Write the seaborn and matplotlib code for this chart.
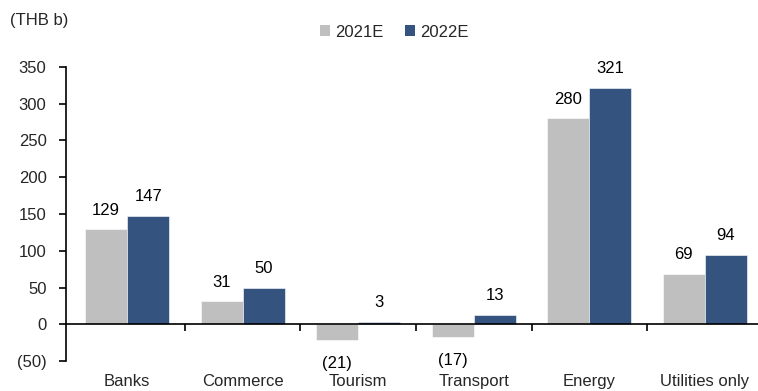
import matplotlib
matplotlib.use("Agg")
import matplotlib.pyplot as plt
import seaborn as sns
import pandas as pd
from matplotlib.ticker import FixedLocator, FuncFormatter
from matplotlib.patches import Patch

# Sector earnings, THB billion
sectors = ["Banks", "Commerce", "Tourism", "Transport", "Energy", "Utilities only"]
values_2021e = [129, 31, -21, -17, 280, 69]
values_2022e = [147, 50, 3, 13, 321, 94]
series = ["2021E", "2022E"]
colors = ["#BFBFBF", "#34537F"]
y_ticks = [-50, 0, 50, 100, 150, 200, 250, 300, 350]

df = pd.DataFrame({
    "sector": sectors * 2,
    "series": [series[0]] * len(sectors) + [series[1]] * len(sectors),
    "value": values_2021e + values_2022e,
})

sns.set_theme(style="white")
plt.rcParams["font.family"] = ["Liberation Sans", "DejaVu Sans"]
FS = 12

fig = plt.figure(figsize=(7.58, 3.91), dpi=100)
ax = fig.add_axes([0.087, 0.0767, 0.919, 0.752])

sns.barplot(data=df, x="sector", y="value", hue="series", order=sectors,
            hue_order=series, palette=colors, width=0.73, saturation=1,
            edgecolor="white", linewidth=0.4, legend=False, ax=ax)

ax.set_ylim(-50, 350)
ax.set_xlim(-0.53, 5.5)
ax.set_xlabel("")
ax.set_ylabel("")

# Value labels: above positive bars, below negative bars in parentheses
for container in ax.containers:
    for bar in container:
        h = bar.get_height()
        v = h if bar.get_y() >= 0 and h >= 0 else -abs(h)
        x = bar.get_x() + bar.get_width() / 2
        if v >= 0:
            ax.annotate(f"{v:.0f}", (x, v), xytext=(0, 8.5), textcoords="offset points",
                        ha="center", va="bottom", fontsize=FS, color="black")
        else:
            ax.annotate(f"({abs(v):.0f})", (x, v), xytext=(0, -11.5), textcoords="offset points",
                        ha="center", va="top", fontsize=FS, color="black")

# Axes styling
for side in ["top", "right"]:
    ax.spines[side].set_visible(False)
ax.spines["left"].set_color("black")
ax.spines["left"].set_linewidth(1.2)
ax.spines["bottom"].set_position(("data", 0))
ax.spines["bottom"].set_color("black")
ax.spines["bottom"].set_linewidth(1.2)

ax.yaxis.set_major_locator(FixedLocator(y_ticks))
ax.yaxis.set_major_formatter(FuncFormatter(lambda v, p: f"({abs(v):.0f})" if v < 0 else f"{v:.0f}"))
ax.tick_params(axis="y", which="major", direction="out", length=5, width=1.2,
               color="black", labelsize=FS, pad=9, left=True)

# Category boundaries as ticks on the zero line, names at the bottom
ax.xaxis.set_major_locator(FixedLocator([i + 0.5 for i in range(len(sectors) - 1)]))
ax.xaxis.set_major_formatter(FuncFormatter(lambda v, p: ""))
ax.xaxis.set_minor_locator(FixedLocator(list(range(len(sectors)))))
ax.xaxis.set_minor_formatter(FuncFormatter(lambda v, p: sectors[int(round(v))]))
ax.tick_params(axis="x", which="major", direction="out", length=5, width=1.2,
               color="black", bottom=True)
ax.tick_params(axis="x", which="minor", length=0, labelsize=FS, pad=36, bottom=True)

fig.text(0.013, 0.948, "(THB b)", fontsize=FS, ha="left", va="center")

handles = [Patch(facecolor=c, edgecolor="none") for c in colors]
fig.legend(handles, series, loc="center", bbox_to_anchor=(0.52, 0.918), ncol=2,
           frameon=False, fontsize=FS, handlelength=0.6, handleheight=0.6,
           handletextpad=0.3, columnspacing=1.3)

fig.savefig("out.png", dpi=100)
